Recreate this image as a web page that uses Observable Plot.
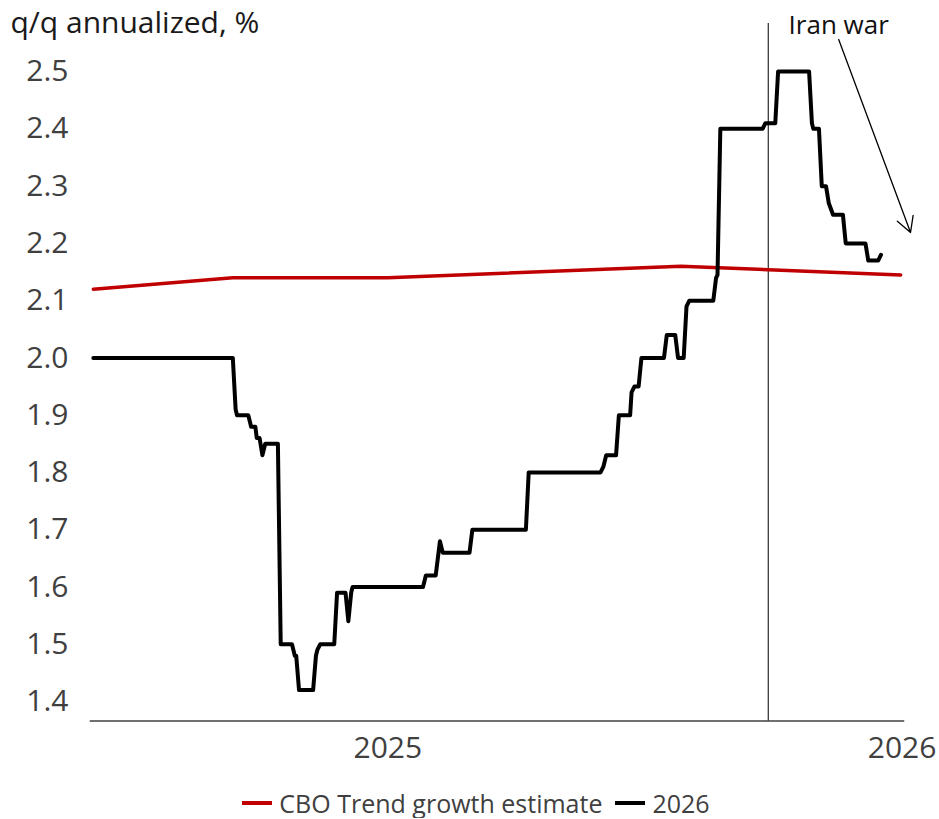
<!DOCTYPE html>
<html>
<head>
<meta charset="utf-8">
<script src="https://cdn.jsdelivr.net/npm/d3@7"></script>
<script src="https://cdn.jsdelivr.net/npm/@observablehq/plot@0.6"></script>
<style>
  body { margin: 0; background: #fff; font-family: "Open Sans", sans-serif; }
  #chart { width: 939px; }
  .legend {
    display: flex; align-items: center; justify-content: center;
    height: 30px; margin-top: 18px; padding-left: 13px;
    font-size: 25px; color: #404040; white-space: nowrap;
  }
  .legend .sw { display: inline-block; width: 30px; height: 4px; margin-right: 7px; }
  .legend .item { display: inline-flex; align-items: center; margin-right: 13px; }
  .legend .item:last-child { margin-right: 0; }
</style>
</head>
<body>
<div id="chart"></div>
<script>
// CBO trend growth estimate
const trendDates  = ["2024-06-06", "2024-09-13", "2025-01-01", "2025-07-28", "2025-12-31"];
const trendValues = [2.12, 2.14, 2.14, 2.16, 2.145];

// Tracking estimate of 2026 growth (q/q annualized, %)
const trackDates = [
  "2024-06-06", "2024-09-13", "2024-09-15", "2024-09-16", "2024-09-24", "2024-09-26",
  "2024-09-29", "2024-09-30", "2024-10-02", "2024-10-04", "2024-10-06", "2024-10-15",
  "2024-10-17", "2024-10-25", "2024-10-27", "2024-10-28", "2024-10-30", "2024-11-09",
  "2024-11-11", "2024-11-12", "2024-11-14", "2024-11-24", "2024-11-26", "2024-12-02",
  "2024-12-04", "2024-12-06", "2024-12-07", "2025-01-26", "2025-01-28", "2025-02-04",
  "2025-02-07", "2025-02-09", "2025-02-28", "2025-03-02", "2025-04-09", "2025-04-11",
  "2025-06-01", "2025-06-03", "2025-06-05", "2025-06-12", "2025-06-14", "2025-06-22",
  "2025-06-23", "2025-06-25", "2025-06-28", "2025-06-30", "2025-07-16", "2025-07-18",
  "2025-07-24", "2025-07-26", "2025-07-30", "2025-08-01", "2025-08-03", "2025-08-20",
  "2025-08-22", "2025-08-23", "2025-08-25", "2025-09-24", "2025-09-26", "2025-10-03",
  "2025-10-05", "2025-10-27", "2025-10-29", "2025-10-30", "2025-11-03", "2025-11-05",
  "2025-11-08", "2025-11-10", "2025-11-13", "2025-11-20", "2025-11-22", "2025-12-06",
  "2025-12-08", "2025-12-15", "2025-12-17"
];
const trackValues = [
  2.00, 2.00, 1.91, 1.90, 1.90, 1.88,
  1.88, 1.86, 1.86, 1.83, 1.85, 1.85,
  1.50, 1.50, 1.48, 1.48, 1.42, 1.42,
  1.48, 1.49, 1.50, 1.50, 1.59, 1.59,
  1.54, 1.59, 1.60, 1.60, 1.62, 1.62,
  1.68, 1.66, 1.66, 1.70, 1.70, 1.80,
  1.80, 1.81, 1.83, 1.83, 1.90, 1.90,
  1.94, 1.95, 1.95, 2.00, 2.00, 2.04,
  2.04, 2.00, 2.00, 2.09, 2.10, 2.10,
  2.14, 2.145, 2.40, 2.40, 2.41, 2.41,
  2.50, 2.50, 2.41, 2.40, 2.40, 2.30,
  2.30, 2.27, 2.25, 2.25, 2.20, 2.20,
  2.17, 2.17, 2.18
];

// Axis ticks
const yTicks = [1.4, 1.5, 1.6, 1.7, 1.8, 1.9, 2.0, 2.1, 2.2, 2.3, 2.4, 2.5];
const xTickYears = [2025, 2026];

// Event marker and annotation
const eventDate = "2025-09-28";
const eventLabel = "Iran war";
const arrowFrom = {date: "2025-11-17", value: 2.556};
const arrowTo   = {date: "2026-01-07", value: 2.219};
const labelAt   = {date: "2025-11-17", value: 2.580};

const titleText = "q/q annualized, %";
const seriesNames = ["CBO Trend growth estimate", "2026"];
const seriesColors = ["#c00000", "#000000"];

const parse = d3.utcParse("%Y-%m-%d");
const trend = trendDates.map((d, i) => ({date: parse(d), value: trendValues[i]}));
const track = trackDates.map((d, i) => ({date: parse(d), value: trackValues[i]}));
const xTicks = xTickYears.map(y => new Date(Date.UTC(y, 0, 1)));

const chart = Plot.plot({
  width: 939,
  height: 770,
  marginLeft: 90,
  marginRight: 36,
  marginTop: 23,
  marginBottom: 49.5,
  style: {fontFamily: "'Open Sans', sans-serif", fontSize: "30px", background: "#fff", overflow: "visible"},
  x: {type: "utc", domain: [parse("2024-06-04"), parse("2026-01-02")], label: null},
  y: {domain: [1.366, 2.584], label: null},
  marks: [
    Plot.axisY(yTicks, {tickSize: 0, tickPadding: 22, tickFormat: d3.format(".1f"),
      color: "#404040", fontSize: 30, label: null}),
    Plot.axisX(xTicks, {tickSize: 0, tickPadding: 16, tickFormat: d3.utcFormat("%Y"),
      color: "#404040", fontSize: 30, label: null}),
    Plot.frame({anchor: "bottom", stroke: "#404040", strokeWidth: 1.5}),
    Plot.ruleX([parse(eventDate)], {stroke: "#000", strokeWidth: 1}),
    Plot.line(trend, {x: "date", y: "value", stroke: seriesColors[0], strokeWidth: 3.5}),
    Plot.line(track, {x: "date", y: "value", stroke: seriesColors[1], strokeWidth: 4,
      strokeLinejoin: "round", strokeLinecap: "round"}),
    Plot.arrow([{}], {
      x1: () => parse(arrowFrom.date), y1: () => arrowFrom.value,
      x2: () => parse(arrowTo.date), y2: () => arrowTo.value,
      stroke: "#000", strokeWidth: 1.3, headLength: 20, headAngle: 58
    }),
    Plot.text([eventLabel], {x: () => parse(labelAt.date), y: () => labelAt.value, text: d => d,
      fontSize: 26, fill: "#111", textAnchor: "middle", lineAnchor: "middle"}),
    Plot.text([titleText], {frameAnchor: "top-left", text: d => d, dx: -80,
      fontSize: 30, fill: "#1a1a1a", textAnchor: "start", lineAnchor: "middle"})
  ]
});

const root = document.getElementById("chart");
root.appendChild(chart);

const legend = document.createElement("div");
legend.className = "legend";
seriesNames.forEach((name, i) => {
  const item = document.createElement("span");
  item.className = "item";
  const sw = document.createElement("span");
  sw.className = "sw";
  sw.style.background = seriesColors[i];
  item.appendChild(sw);
  item.appendChild(document.createTextNode(name));
  legend.appendChild(item);
});
root.appendChild(legend);
</script>
</body>
</html>
